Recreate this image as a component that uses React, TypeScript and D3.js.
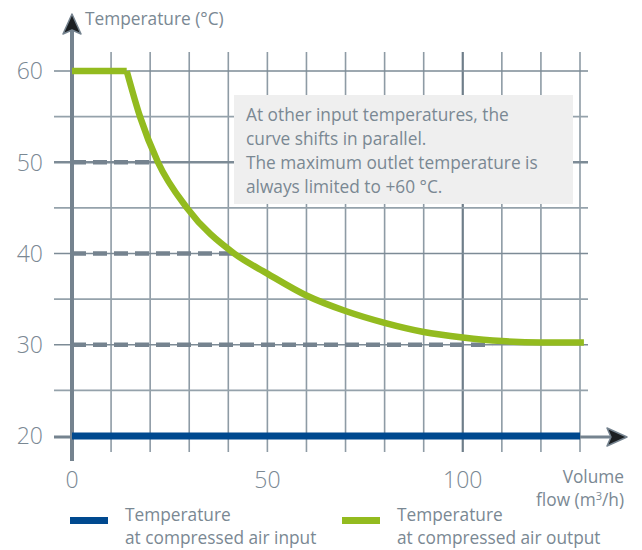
import React from "react";
import * as d3 from "d3";

// volume flow (m³/h) vs temperature (°C)
const outputFlat: [number, number][] = [
  [0, 60],
  [14, 60],
];
const outputCurve: [number, number][] = [
  [14, 60],
  [17.4, 55],
  [22, 50],
  [29.4, 45],
  [41.5, 40],
  [50, 37.8],
  [60, 35.4],
  [70, 33.7],
  [80, 32.4],
  [90, 31.4],
  [100, 30.8],
  [110, 30.4],
  [120, 30.25],
  [131, 30.25],
];
const inputLine: [number, number][] = [
  [0, 20],
  [130, 20],
];
// reference levels for other input temperatures: [temp, flow where the curve is met]
const dashedLevels: [number, number][] = [
  [50, 21.2],
  [40, 41.2],
  [30, 107.5],
];
const xTicks = [0, 50, 100];
const yTicks = [20, 30, 40, 50, 60];
const xGrid = [10, 20, 30, 40, 50, 60, 70, 80, 90, 100, 110, 120, 130];
const yGrid = [25, 30, 35, 40, 45, 50, 55, 60];
const noteLines = [
  "At other input temperatures, the",
  "curve shifts in parallel.",
  "The maximum outlet temperature is",
  "always limited to +60 °C.",
];
const legendItems = [
  { color: "#00498f", lines: ["Temperature", "at compressed air input"] },
  { color: "#93bb1f", lines: ["Temperature", "at compressed air output"] },
];

const W = 642;
const H = 550;
const FONT = "'Open Sans', 'Noto Sans', sans-serif";
const TXT = "#7a8893";
const AXIS = "#75838f";

export default function App() {
  const x = d3.scaleLinear().domain([0, 130]).range([72, 580]);
  const y = d3.scaleLinear().domain([20, 60]).range([436, 71]);

  const line = d3
    .line<[number, number]>()
    .x((d) => x(d[0]))
    .y((d) => y(d[1]));
  const curve = d3
    .line<[number, number]>()
    .x((d) => x(d[0]))
    .y((d) => y(d[1]))
    .curve(d3.curveMonotoneX);

  const x0 = x(0);
  const y0 = y(20);

  return (
    <svg
      width={W}
      height={H}
      style={{ position: "absolute", left: 0, top: 0, background: "#fff" }}
      fontFamily={FONT}
    >
      {/* grid */}
      {xGrid.map((v) => (
        <line
          key={"gx" + v}
          x1={x(v)}
          x2={x(v)}
          y1={52}
          y2={452}
          stroke={v === 100 ? "#6f7e8a" : "#8e9ba5"}
          strokeWidth={v === 100 ? 2.2 : 1.6}
        />
      ))}
      {yGrid.map((v) => (
        <line
          key={"gy" + v}
          x1={54}
          x2={588}
          y1={y(v)}
          y2={y(v)}
          stroke={v % 10 === 0 ? "#7d8b96" : "#95a2ab"}
          strokeWidth={v === 50 ? 2.6 : 1.6}
        />
      ))}

      {/* note box */}
      <rect x={234} y={95} width={339} height={109} fill="#efefef" />
      <text fill={TXT} fontSize={17.3}>
        {noteLines.map((t, i) => (
          <tspan key={i} x={246} y={121 + i * 24}>
            {t}
          </tspan>
        ))}
      </text>

      {/* dashed reference levels */}
      {dashedLevels.map(([t, f]) => (
        <line
          key={"d" + t}
          x1={x0}
          x2={x(f)}
          y1={y(t)}
          y2={y(t)}
          stroke={AXIS}
          strokeWidth={4.5}
          strokeDasharray="14 7"
        />
      ))}

      {/* x axis */}
      <line x1={54} x2={612} y1={y0 + 1} y2={y0 + 1} stroke={AXIS} strokeWidth={3} />
      <path
        d={`M${627},${y0 + 1} L${607},${y0 - 8} L${611},${y0 + 1} L${607},${y0 + 10} Z`}
        fill="#1c1f22"
        stroke={AXIS}
        strokeWidth={1.5}
        strokeLinejoin="round"
      />
      {/* y axis */}
      <line x1={x0} x2={x0} y1={30} y2={461} stroke={AXIS} strokeWidth={4} />
      <path
        d={`M${x0},14 L${x0 - 9},34 L${x0},30 L${x0 + 9},34 Z`}
        fill="#1c1f22"
        stroke={AXIS}
        strokeWidth={1.5}
        strokeLinejoin="round"
      />

      {/* series */}
      <path d={line(inputLine) ?? ""} fill="none" stroke="#00498f" strokeWidth={7} />
      <path d={line(outputFlat) ?? ""} fill="none" stroke="#93bb1f" strokeWidth={6.5} />
      <path d={curve(outputCurve) ?? ""} fill="none" stroke="#93bb1f" strokeWidth={6.5} />

      {/* tick labels */}
      {yTicks.map((v) => (
        <text
          key={"yt" + v}
          x={43}
          y={y(v)}
          dy="0.36em"
          textAnchor="end"
          fill={TXT}
          fontSize={23}
          fontWeight={300}
        >
          {v}
        </text>
      ))}
      {xTicks.map((v) => (
        <text
          key={"xt" + v}
          x={x(v)}
          y={480}
          dy="0.36em"
          textAnchor="middle"
          fill={TXT}
          fontSize={23}
          fontWeight={300}
        >
          {v}
        </text>
      ))}

      {/* axis titles */}
      <text x={85} y={25} fill={TXT} fontSize={17.3}>
        Temperature (°C)
      </text>
      <text textAnchor="end" fill={TXT} fontSize={17.3}>
        <tspan x={624} y={483}>
          Volume
        </tspan>
        <tspan x={624} y={506}>
          flow (m
          <tspan dy={-6} fontSize={11}>
            3
          </tspan>
          <tspan dy={6}>/h)</tspan>
        </tspan>
      </text>

      {/* legend */}
      {legendItems.map((it, i) => {
        const lx = i === 0 ? 70 : 342;
        return (
          <g key={"lg" + i}>
            <rect x={lx} y={517} width={38} height={7} fill={it.color} />
            <text fill={TXT} fontSize={17.3}>
              {it.lines.map((t, j) => (
                <tspan key={j} x={lx + 55} y={521 + j * 23}>
                  {t}
                </tspan>
              ))}
            </text>
          </g>
        );
      })}
    </svg>
  );
}
